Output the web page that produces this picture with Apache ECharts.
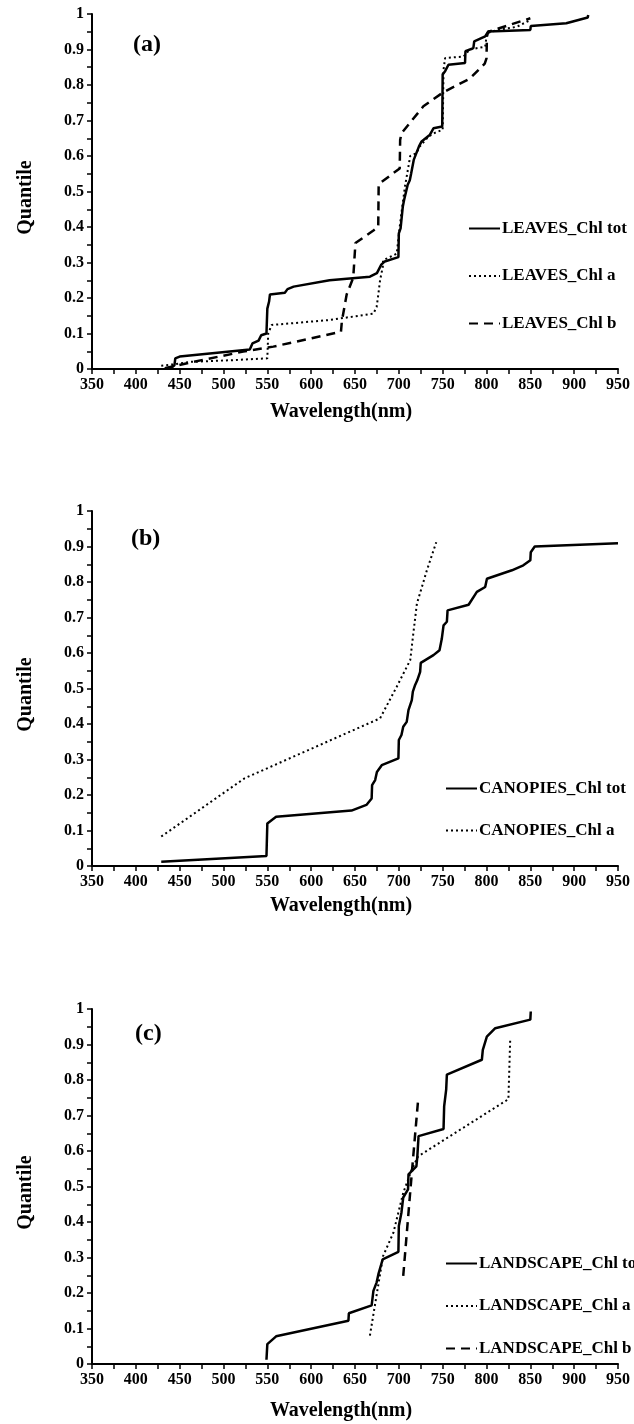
<!DOCTYPE html>
<html>
<head>
<meta charset="utf-8">
<script src="https://cdn.jsdelivr.net/npm/echarts@6/dist/echarts.min.js"></script>
<style>
  html, body { margin: 0; padding: 0; background: #fff; }
  #main { width: 634px; height: 1424px; }
</style>
</head>
<body>
<div id="main"></div>
<script>
// 数据: [波长(nm), 分位数]
var leavesTot = [[437,0],[444,0.01],[445,0.03],[450,0.035],[530,0.055],[532,0.058],[533,0.072],[540,0.08],[543,0.095],[549,0.1],[550,0.17],[552,0.19],[553,0.21],[570,0.215],[573,0.225],[580,0.232],[621,0.25],[667,0.26],[675,0.27],[680,0.294],[684,0.303],[699.5,0.315],[700,0.382],[702,0.396],[704.5,0.457],[706,0.476],[710,0.518],[712.5,0.532],[714,0.55],[717,0.589],[720,0.608],[723,0.627],[726,0.641],[735.5,0.66],[739.5,0.678],[749.5,0.683],[750,0.83],[752.8,0.839],[756.6,0.857],[775.5,0.862],[776,0.895],[785,0.904],[786,0.923],[798.5,0.937],[802,0.951],[850,0.955],[850.5,0.966],[891,0.974],[915.5,0.99],[916,0.997]]
var leavesA = [[429,0.009],[442.5,0.013],[461.6,0.02],[511,0.025],[550,0.03],[551,0.1],[555,0.124],[621,0.138],[671,0.156],[674.7,0.175],[676.7,0.212],[678.6,0.25],[681.7,0.288],[682,0.306],[697.6,0.325],[701,0.4],[703,0.44],[707,0.514],[713,0.6],[720,0.608],[724,0.627],[733.8,0.655],[741,0.665],[750,0.674],[751,0.843],[752.8,0.876],[773.8,0.88],[781,0.9],[798.5,0.908],[800.5,0.946],[812,0.955],[834.7,0.964],[850,0.983]]
var leavesB = [[433,0.002],[465,0.02],[522.5,0.049],[556.8,0.063],[634,0.105],[635,0.134],[640.5,0.21],[648,0.257],[650,0.26],[650.5,0.355],[671,0.39],[676.5,0.4],[677,0.52],[680.5,0.527],[701,0.565],[701.5,0.645],[703,0.664],[728,0.74],[751,0.78],[781,0.818],[798,0.86],[800,0.875],[800.5,0.937],[802,0.95],[850,0.988]]

var canopiesTot = [[429,0.012],[549,0.028],[550,0.12],[560,0.139],[646,0.156],[663,0.172],[669,0.19],[669.5,0.228],[673,0.242],[675,0.265],[680.5,0.284],[699.5,0.303],[700,0.355],[703,0.369],[705,0.392],[709,0.406],[711,0.439],[714.8,0.467],[716,0.491],[718.6,0.51],[721,0.523],[724.3,0.547],[725,0.572],[739.5,0.594],[746.4,0.608],[749,0.64],[751,0.678],[754.8,0.688],[755.6,0.72],[779.6,0.736],[789,0.772],[798.5,0.786],[800.5,0.809],[829,0.833],[842,0.847],[850,0.861],[850.5,0.884],[855,0.9],[950,0.909]]
var canopiesA = [[429,0.083],[524,0.247],[678.6,0.416],[697.6,0.505],[713,0.58],[717,0.665],[720.6,0.739],[732,0.833],[742.7,0.912]]

var landscapeTot = [[549,0.012],[550,0.056],[560,0.078],[642.5,0.122],[643,0.143],[669,0.165],[671,0.206],[674.7,0.23],[676.7,0.253],[681.6,0.295],[699.5,0.316],[700,0.389],[703,0.427],[705,0.469],[710.5,0.492],[711,0.534],[720,0.557],[721,0.581],[722.5,0.642],[751,0.662],[751.7,0.726],[754,0.773],[754.8,0.815],[794.7,0.857],[795.8,0.885],[800.4,0.922],[810,0.946],[850,0.97],[850.5,0.993]]
var landscapeA = [[667,0.08],[682,0.304],[693.8,0.37],[705,0.482],[714.8,0.548],[722,0.585],[825,0.746],[827,0.912]]
var landscapeB = [[705,0.248],[714.8,0.538],[722,0.744]]

var panelLabels = ['(a)', '(b)', '(c)']

var font = 'Liberation Serif, Times New Roman, serif'
var gridTops = [14, 511, 1009]

var makeX = function(i, gap) {
    return {
        type: 'value', gridIndex: i, min: 350, max: 950, interval: 50,
        name: 'Wavelength(nm)', nameLocation: 'middle', nameGap: gap,
        nameTextStyle: { fontFamily: font, fontWeight: 'bold', fontSize: 20, color: '#000', padding: [0, 28, 0, 0] },
        axisLine: { lineStyle: { color: '#000', width: 2 } },
        axisTick: { show: true, length: 5, lineStyle: { color: '#000', width: 1.5 } },
        minorTick: { show: true, splitNumber: 2, length: 5, lineStyle: { color: '#000', width: 1.5 } },
        axisLabel: { fontFamily: font, fontWeight: 'bold', fontSize: 16, color: '#000', margin: 8 },
        splitLine: { show: false }
    }
}
var makeY = function(i) {
    return {
        type: 'value', gridIndex: i, min: 0, max: 1, interval: 0.1,
        name: 'Quantile', nameLocation: 'middle', nameGap: 56, nameRotate: 90,
        nameTextStyle: { fontFamily: font, fontWeight: 'bold', fontSize: 20, color: '#000', padding: [0, 12, 0, 0] },
        axisLine: { show: true, lineStyle: { color: '#000', width: 2 } },
        axisTick: { show: true, length: 5, lineStyle: { color: '#000', width: 1.5 } },
        minorTick: { show: true, splitNumber: 2, length: 5, lineStyle: { color: '#000', width: 1.5 } },
        axisLabel: { fontFamily: font, fontWeight: 'bold', fontSize: 16, color: '#000', margin: 8 },
        splitLine: { show: false }
    }
}
var line = function(name, i, data, type, width) {
    return {
        name: name, type: 'line', xAxisIndex: i, yAxisIndex: i,
        data: data, symbol: 'none', silent: true,
        lineStyle: { color: '#000', width: width, type: type },
        itemStyle: { color: '#000' }
    }
}
var legendText = { fontFamily: font, fontWeight: 'bold', fontSize: 17, color: '#000', padding: [0, 0, 0, -3] }
var makeLegend = function(names, left, top, gap) {
    return {
        data: names, orient: 'vertical', left: left, top: top, padding: 0,
        itemWidth: 31, itemHeight: 14, itemGap: gap, textStyle: legendText,
        itemStyle: { opacity: 0, color: 'rgba(0,0,0,0)', borderWidth: 0 }
    }
}

var myChart = echarts.init(document.querySelector('#main'))
var option = {
    backgroundColor: '#fff',
    animation: false,
    title: panelLabels.map(function(t, i) {
        return {
            text: t, left: [133, 131, 135][i], top: [33, 527, 1022][i], padding: 0,
            textStyle: { fontFamily: font, fontWeight: 'bold', fontSize: 24, color: '#000' }
        }
    }),
    grid: gridTops.map(function(t) {
        return { left: 92, right: 16, top: t, height: 355 }
    }),
    xAxis: [makeX(0, 33), makeX(1, 30), makeX(2, 37)],
    yAxis: [makeY(0), makeY(1), makeY(2)],
    legend: [
        makeLegend(['LEAVES_Chl tot', 'LEAVES_Chl a', 'LEAVES_Chl b'], 468, 220, 30.5),
        makeLegend(['CANOPIES_Chl tot', 'CANOPIES_Chl a'], 445, 780, 25),
        makeLegend(['LANDSCAPE_Chl tot', 'LANDSCAPE_Chl a', 'LANDSCAPE_Chl b'], 445, 1255, 25.5)
    ],
    series: [
        line('LEAVES_Chl tot', 0, leavesTot, 'solid', 2.5),
        line('LEAVES_Chl a', 0, leavesA, [2, 3], 2),
        line('LEAVES_Chl b', 0, leavesB, [9, 6], 2.5),
        line('CANOPIES_Chl tot', 1, canopiesTot, 'solid', 2.5),
        line('CANOPIES_Chl a', 1, canopiesA, [2, 3], 2),
        line('LANDSCAPE_Chl tot', 2, landscapeTot, 'solid', 2.5),
        line('LANDSCAPE_Chl a', 2, landscapeA, [2, 3], 2),
        line('LANDSCAPE_Chl b', 2, landscapeB, [9, 6], 2.5)
    ]
}
myChart.setOption(option)
</script>
</body>
</html>
